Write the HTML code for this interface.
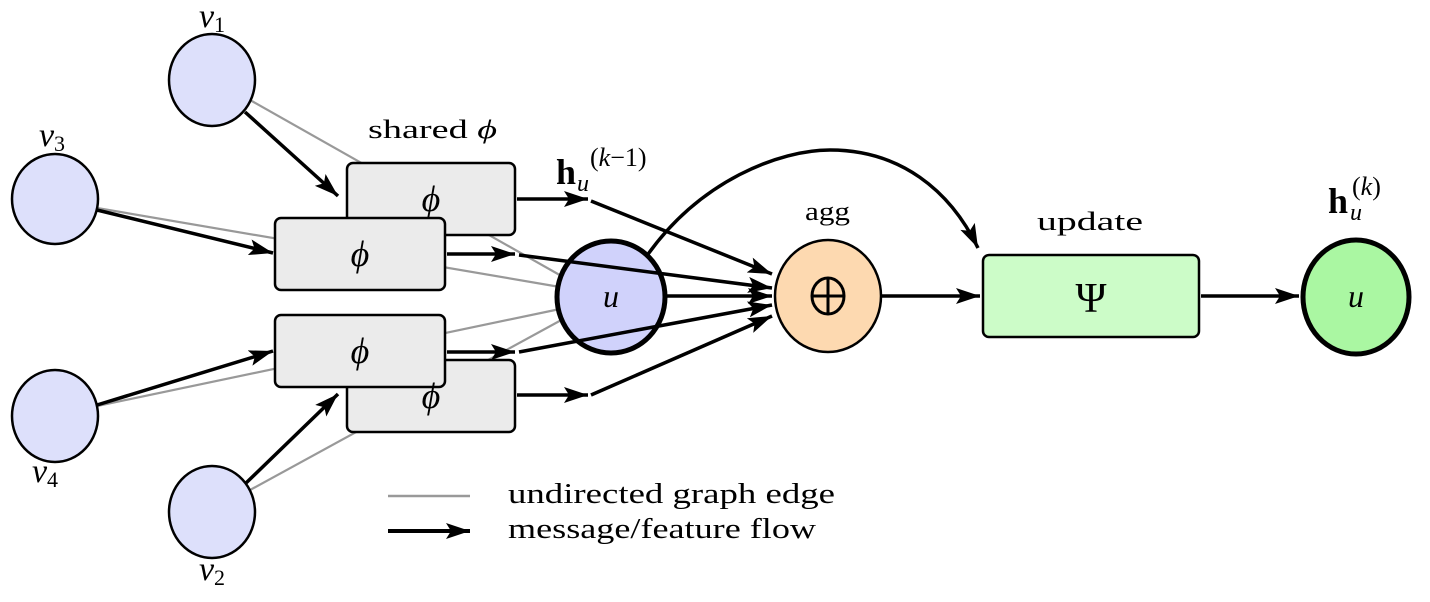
<!DOCTYPE html>
<html><head><meta charset="utf-8"><style>
html,body{margin:0;padding:0;background:#fff;}
svg{display:block;}
text{font-family:"Liberation Serif","DejaVu Serif",serif;fill:#000;}
.m{font-style:italic;}
</style></head><body>
<svg width="1430" height="602" viewBox="0 0 1430 602" xmlns="http://www.w3.org/2000/svg">
<defs>
<marker id="ah" viewBox="0 0 24 16" refX="24" refY="8" markerWidth="24" markerHeight="16" markerUnits="userSpaceOnUse" orient="auto">
<path d="M0,0 L24,8 L0,16 L5,8 Z" fill="#000"/>
</marker>
</defs>
<g stroke="#999" stroke-width="2.2">
<line x1="250" y1="100" x2="565" y2="278"/>
<line x1="97" y1="208" x2="560" y2="287"/>
<line x1="97" y1="406" x2="560" y2="309"/>
<line x1="250" y1="490" x2="565" y2="318"/>
</g>
<g fill="#dde0fb" stroke="#000" stroke-width="2.5">
<ellipse cx="212" cy="80" rx="43" ry="46"/>
<ellipse cx="55" cy="199" rx="43" ry="45"/>
<ellipse cx="55" cy="416" rx="43" ry="46"/>
<ellipse cx="212" cy="512" rx="43" ry="46"/>
</g>
<text x="212" y="27" font-size="34" text-anchor="middle" class="m">v<tspan font-size="22" dy="5" font-style="normal">1</tspan></text>
<text x="52" y="146" font-size="34" text-anchor="middle" class="m">v<tspan font-size="22" dy="5" font-style="normal">3</tspan></text>
<text x="45" y="482" font-size="34" text-anchor="middle" class="m">v<tspan font-size="22" dy="5" font-style="normal">4</tspan></text>
<text x="212" y="580" font-size="34" text-anchor="middle" class="m">v<tspan font-size="22" dy="5" font-style="normal">2</tspan></text>
<g fill="#ebebeb" stroke="#000" stroke-width="2.5">
<rect x="347" y="163" width="168" height="72" rx="6"/>
<rect x="347" y="360" width="168" height="72" rx="6"/>
<rect x="275" y="218" width="170" height="72" rx="6"/>
<rect x="275" y="315" width="170" height="72" rx="6"/>
</g>
<g font-size="36" text-anchor="middle" class="m">
<text x="431" y="211">ϕ</text>
<text x="431" y="408">ϕ</text>
<text x="360" y="266">ϕ</text>
<text x="360" y="363">ϕ</text>
</g>
<text x="368" y="138" font-size="26" textLength="129" lengthAdjust="spacingAndGlyphs">shared <tspan class="m">ϕ</tspan></text>
<ellipse cx="611" cy="297" rx="54" ry="56" fill="#d0d2fb" stroke="#000" stroke-width="5"/>
<text x="611" y="307" font-size="32" text-anchor="middle" class="m">u</text>
<g stroke="#000" stroke-width="3.5" fill="none" marker-end="url(#ah)">
<line x1="245" y1="112" x2="338" y2="196"/>
<line x1="97" y1="210" x2="273" y2="253"/>
<line x1="97" y1="405" x2="273" y2="351"/>
<line x1="245" y1="484" x2="338" y2="394"/>
<line x1="517" y1="199" x2="588" y2="199"/>
<line x1="447" y1="254" x2="515" y2="254"/>
<line x1="447" y1="352" x2="515" y2="352"/>
<line x1="517" y1="395" x2="588" y2="395"/>
<line x1="591" y1="201" x2="772" y2="274"/>
<line x1="519" y1="255" x2="772" y2="288"/>
<line x1="667" y1="296" x2="772" y2="296"/>
<line x1="519" y1="352" x2="772" y2="305"/>
<line x1="591" y1="395" x2="772" y2="316"/>
<line x1="882" y1="296" x2="980" y2="296"/>
<line x1="1201" y1="296" x2="1299" y2="296"/>
<path d="M646,257 C700,180 780,150 830,150 C900,150 950,190 978,248"/>
</g>
<text x="556" y="184" font-size="36" font-weight="bold">h</text>
<text x="577" y="191" font-size="24" class="m">u</text>
<text x="590" y="166" font-size="26">(<tspan class="m">k</tspan>−1)</text>
<ellipse cx="828" cy="296" rx="53" ry="56" fill="#fdd9b0" stroke="#000" stroke-width="2.5"/>
<g stroke="#000" stroke-width="3" fill="none">
<ellipse cx="828" cy="296" rx="16" ry="18"/>
<line x1="812" y1="296" x2="844" y2="296"/>
<line x1="828" y1="278" x2="828" y2="314"/>
</g>
<text x="805" y="220" font-size="26" textLength="45" lengthAdjust="spacingAndGlyphs">agg</text>
<rect x="983" y="255" width="216" height="82" rx="6" fill="#ccfcc8" stroke="#000" stroke-width="2.5"/>
<text x="1091" y="312" font-size="42" text-anchor="middle">Ψ</text>
<text x="1037" y="230" font-size="26" textLength="106" lengthAdjust="spacingAndGlyphs">update</text>
<ellipse cx="1356" cy="297" rx="53" ry="57" fill="#aaf7a2" stroke="#000" stroke-width="5"/>
<text x="1356" y="307" font-size="32" text-anchor="middle" class="m">u</text>
<text x="1328" y="213" font-size="36" font-weight="bold">h</text>
<text x="1350" y="220" font-size="24" class="m">u</text>
<text x="1352" y="195" font-size="26">(<tspan class="m">k</tspan>)</text>
<line x1="388" y1="496" x2="470" y2="496" stroke="#999" stroke-width="2.5"/>
<line x1="388" y1="531" x2="470" y2="531" stroke="#000" stroke-width="4" marker-end="url(#ah)"/>
<text x="508" y="503" font-size="28" textLength="327" lengthAdjust="spacingAndGlyphs">undirected graph edge</text>
<text x="508" y="538" font-size="28" textLength="308" lengthAdjust="spacingAndGlyphs">message/feature flow</text>
</svg>
</body></html>
